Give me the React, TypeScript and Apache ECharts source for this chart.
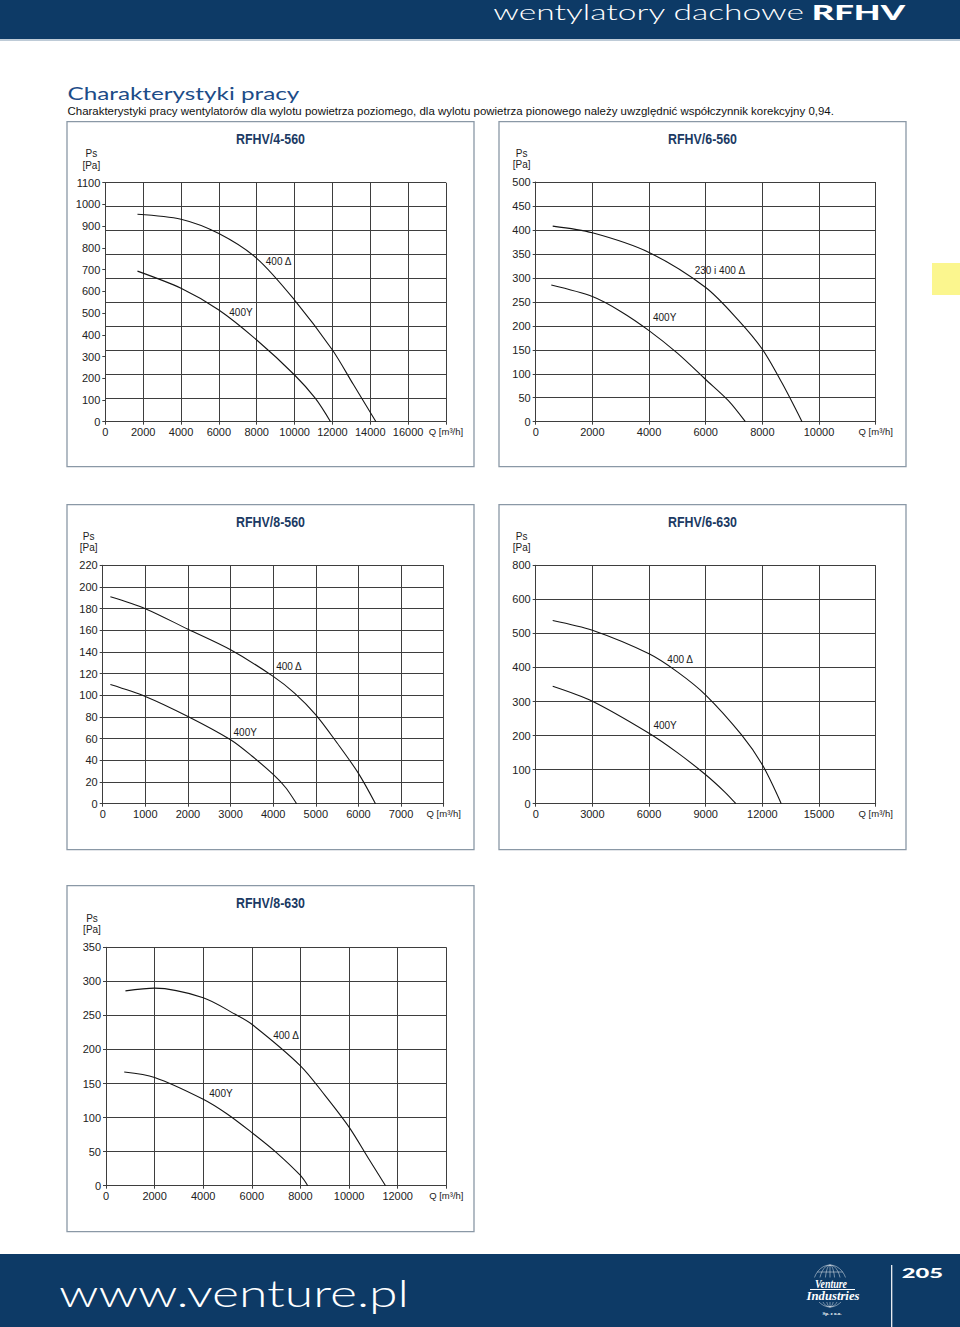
import React, { useEffect, useRef } from "react";
import * as echarts from "echarts";

type P = [number, number];

// ---------------- data ----------------
const chartTitles = ["RFHV/4-560", "RFHV/6-560", "RFHV/8-560", "RFHV/6-630", "RFHV/8-630"];

// RFHV/4-560
const c1Delta: P[] = [[1700, 955], [4000, 932], [6000, 866], [8000, 752], [10000, 560], [12000, 330], [13100, 172], [14300, 0]];
const c1Star: P[] = [[1700, 693], [4000, 614], [6000, 514], [8000, 376], [10000, 215], [11100, 107], [11900, 0]];
const c1XTicks = ["0", "2000", "4000", "6000", "8000", "10000", "12000", "14000", "16000", "Q [m³/h]"];
const c1YTicks = ["0", "100", "200", "300", "400", "500", "600", "700", "800", "900", "1000", "1100"];
const c1Labels = [{ text: "400 Δ", x: 8480, y: 736 }, { text: "400Y", x: 6550, y: 502 }];

// RFHV/6-560
const c2Delta: P[] = [[600, 408], [2000, 394], [4000, 353], [6000, 280], [7150, 212], [8000, 151], [8700, 80], [9400, 0]];
const c2Star: P[] = [[550, 285], [2000, 261], [3000, 230], [4000, 190], [5000, 143], [6000, 88], [6800, 44], [7400, 0]];
const c2XTicks = ["0", "2000", "4000", "6000", "8000", "10000", "Q [m³/h]"];
const c2YTicks = ["0", "50", "100", "150", "200", "250", "300", "350", "400", "450", "500"];
const c2Labels = [{ text: "230 i 400 Δ", x: 5610, y: 315 }, { text: "400Y", x: 4140, y: 218 }];

// RFHV/8-560
const c3Delta: P[] = [[180, 191], [1000, 180], [2000, 161], [3000, 142], [4000, 117.5], [4500, 102], [5000, 82], [5500, 56], [6000, 28], [6400, 0]];
const c3Star: P[] = [[180, 110], [1000, 99], [2000, 80.5], [3000, 59], [3500, 44], [4000, 27], [4300, 14.5], [4550, 0]];
const c3XTicks = ["0", "1000", "2000", "3000", "4000", "5000", "6000", "7000", "Q [m³/h]"];
const c3YTicks = ["0", "20", "40", "60", "80", "100", "120", "140", "160", "180", "200", "220"];
const c3Labels = [{ text: "400 Δ", x: 4070, y: 127 }, { text: "400Y", x: 3070, y: 66 }];

// RFHV/6-630
const c4Delta: P[] = [[900, 538], [3000, 509], [6000, 440], [7500, 387], [9000, 319], [10900, 202], [12000, 114], [13000, 0]];
const c4Star: P[] = [[900, 345], [3000, 301], [6000, 207], [7500, 150], [9000, 85], [10000, 35], [10600, 0]];
const c4XTicks = ["0", "3000", "6000", "9000", "12000", "15000", "Q [m³/h]"];
const c4YTicks = ["0", "100", "200", "300", "400", "500", "600", "800"];
const c4Labels = [{ text: "400 Δ", x: 6970, y: 424 }, { text: "400Y", x: 6230, y: 231 }];

// RFHV/8-630
const c5Delta: P[] = [[800, 286], [2000, 290], [4000, 276], [5300, 252], [6000, 237], [8000, 176], [9000, 133], [10000, 86], [10800, 40], [11500, 0]];
const c5Star: P[] = [[750, 167], [2000, 159], [4000, 127], [5000, 105], [6000, 78], [7000, 49], [8000, 15], [8300, 0]];
const c5XTicks = ["0", "2000", "4000", "6000", "8000", "10000", "12000", "Q [m³/h]"];
const c5YTicks = ["0", "50", "100", "150", "200", "250", "300", "350"];
const c5Labels = [{ text: "400 Δ", x: 6880, y: 220 }, { text: "400Y", x: 4250, y: 135 }];

const xSteps = [2000, 2000, 1000, 3000, 2000];
const ySteps = [100, 50, 20, 100, 50];
const c1GridDivisions = 10; // the original grid of RFHV/4-560 has 10 rows for 11 label steps

// ---------------- layout ----------------
const layouts = [
  { box: [67, 121.7, 407, 345], grid: [105.3, 182.7, 340.7, 239] },
  { box: [499, 121.7, 407, 345], grid: [535.7, 182, 340, 239.7] },
  { box: [67, 504.7, 407, 345], grid: [102.7, 565.3, 341, 238.4] },
  { box: [499, 504.7, 407, 345], grid: [535.7, 565.3, 340, 238.4] },
  { box: [67, 885.7, 407, 346], grid: [106, 947.3, 340.3, 238.4] },
];

const SANS = '"Liberation Sans", Arial, Helvetica, sans-serif';
const WIDE = 'Lato, "Open Sans", sans-serif';
const SERIF = '"Liberation Serif", "DejaVu Serif", serif';
const NAVY = "#0d3a66";
const GRID = "#3e3e3e";
const INK = "#1a1a1a";

const measureCtx = (typeof document !== "undefined" ? document.createElement("canvas").getContext("2d") : null) as CanvasRenderingContext2D | null;

function txt(
  text: string,
  x: number,
  y: number,
  size: number,
  o: { family?: string; weight?: any; fstyle?: string; fill?: string; align?: string; width?: number } = {}
) {
  const family = o.family ?? SANS;
  const weight = o.weight ?? "normal";
  const fstyle = o.fstyle ?? "normal";
  let scaleX = 1;
  if (o.width && measureCtx) {
    measureCtx.font = `${fstyle} ${weight} ${size}px ${family}`;
    const w = measureCtx.measureText(text).width;
    if (w > 0) scaleX = o.width / w;
  }
  return {
    type: "text",
    x,
    y,
    scaleX,
    silent: true,
    z: 10,
    style: {
      text,
      fontSize: size,
      fontFamily: family,
      fontWeight: weight,
      fontStyle: fstyle,
      fill: o.fill ?? INK,
      align: o.align ?? "left",
      verticalAlign: "middle",
    },
  };
}

const charts = [
  { d: c1Delta, s: c1Star, xt: c1XTicks, yt: c1YTicks, lab: c1Labels },
  { d: c2Delta, s: c2Star, xt: c2XTicks, yt: c2YTicks, lab: c2Labels },
  { d: c3Delta, s: c3Star, xt: c3XTicks, yt: c3YTicks, lab: c3Labels },
  { d: c4Delta, s: c4Star, xt: c4XTicks, yt: c4YTicks, lab: c4Labels },
  { d: c5Delta, s: c5Star, xt: c5XTicks, yt: c5YTicks, lab: c5Labels },
];

function buildGraphic(): any[] {
  const graphic: any[] = [];
  // header
  graphic.push({ type: "rect", silent: true, shape: { x: 0, y: 0, width: 960, height: 39 }, style: { fill: NAVY } });
  graphic.push({ type: "line", silent: true, shape: { x1: 0, y1: 40, x2: 960, y2: 40 }, style: { stroke: "#7f98b0", lineWidth: 1 } });
  graphic.push(txt("wentylatory dachowe", 493.3, 12, 21, { family: WIDE, weight: 300, fill: "#ffffff", width: 311.7 }));
  graphic.push(txt("RFHV", 811.7, 12, 20, { family: WIDE, weight: 900, fill: "#ffffff", width: 93.3 }));

  // page title
  graphic.push(txt("Charakterystyki pracy", 67.5, 93.5, 17, { family: WIDE, weight: 400, fill: "#1d4c88", width: 232 }));
  graphic.push(
    txt(
      "Charakterystyki pracy wentylatorów dla wylotu powietrza poziomego, dla wylotu powietrza pionowego należy uwzględnić współczynnik korekcyjny 0,94.",
      67.5,
      110.5,
      11.5,
      { fill: "#111", width: 767 }
    )
  );

  // yellow side tab
  graphic.push({ type: "rect", silent: true, shape: { x: 932, y: 263, width: 28, height: 32 }, style: { fill: "#fbf68e" } });

  // chart frames, titles and axis names
  layouts.forEach((l, i) => {
    const [bx, by, bw, bh] = l.box;
    const [gl, gt] = l.grid;
    graphic.push({ type: "rect", silent: true, shape: { x: bx, y: by, width: bw, height: bh }, style: { fill: "none", stroke: "#8a98a6", lineWidth: 1.3 } });
    graphic.push(txt(chartTitles[i], bx + bw / 2, by + 16.8, 15.5, { weight: "bold", fill: "#1b3a63", align: "center", width: 69 }));
    graphic.push(txt("Ps", gl - 14, gt - 29, 10, { fill: "#222", align: "center" }));
    graphic.push(txt("[Pa]", gl - 14, gt - 17.5, 10, { fill: "#222", align: "center" }));
  });

  // footer
  graphic.push({ type: "rect", silent: true, shape: { x: 0, y: 1254, width: 960, height: 73 }, style: { fill: NAVY } });
  graphic.push(txt("www.venture.pl", 59, 1293.5, 37, { family: WIDE, weight: 300, fill: "#ffffff", width: 350 }));
  // logo globe
  const gcx = 830, gcy = 1286, grx = 17, gry = 21;
  const globeStroke = "rgba(255,255,255,0.75)";
  [grx, 11, 5].forEach((rx) => {
    graphic.push({ type: "ellipse", silent: true, shape: { cx: gcx, cy: gcy, rx, ry: gry }, style: { fill: "none", stroke: globeStroke, lineWidth: 0.6 } });
  });
  graphic.push({ type: "line", silent: true, shape: { x1: gcx, y1: gcy - gry, x2: gcx, y2: gcy + gry }, style: { stroke: globeStroke, lineWidth: 0.6 } });
  [-14, -7, 7, 14].forEach((dy) => {
    const hw = grx * Math.sqrt(1 - (dy / gry) * (dy / gry));
    graphic.push({ type: "line", silent: true, shape: { x1: gcx - hw, y1: gcy + dy, x2: gcx + hw, y2: gcy + dy }, style: { stroke: globeStroke, lineWidth: 0.6 } });
  });
  graphic.push({ type: "rect", silent: true, shape: { x: 812, y: 1277.5, width: 38, height: 12 }, style: { fill: NAVY } });
  graphic.push({ type: "rect", silent: true, shape: { x: 806, y: 1290, width: 55, height: 12 }, style: { fill: NAVY } });
  graphic.push(txt("Venture", 831, 1283.5, 12, { family: SERIF, weight: "bold", fstyle: "italic", fill: "#ffffff", align: "center", width: 32 }));
  graphic.push({ type: "line", silent: true, shape: { x1: 810, y1: 1289.5, x2: 855, y2: 1289.5 }, style: { stroke: "#ffffff", lineWidth: 1 } });
  graphic.push(txt("Industries", 833, 1295.5, 13, { family: SERIF, weight: "bold", fstyle: "italic", fill: "#ffffff", align: "center", width: 53 }));
  graphic.push(txt("Sp. z o.o.", 832, 1313, 5, { family: SERIF, weight: "bold", fill: "#ffffff", align: "center" }));
  graphic.push({ type: "line", silent: true, shape: { x1: 891.7, y1: 1265, x2: 891.7, y2: 1327 }, style: { stroke: "#ffffff", lineWidth: 1.2 } });
  graphic.push(txt("205", 901.7, 1272.7, 14, { family: WIDE, weight: 900, fill: "#ffffff", width: 41.3 }));
  return graphic;
}

function buildOption() {
  const grid = layouts.map((l) => ({ left: l.grid[0], top: l.grid[1], width: l.grid[2], height: l.grid[3], containLabel: false }));

  const xAxis = charts.map((c, i) => {
    const step = xSteps[i];
    const max = step * (c.xt.length - 1);
    return {
      type: "value",
      gridIndex: i,
      min: 0,
      max,
      interval: step,
      axisLine: { show: true, onZero: false, lineStyle: { color: GRID, width: 1 } },
      axisTick: { show: true, length: 3, lineStyle: { color: GRID } },
      splitLine: { show: true, lineStyle: { color: GRID, width: 1 } },
      axisLabel: {
        margin: 5,
        fontSize: 11,
        color: "#222",
        fontFamily: SANS,
        formatter: (v: number) => {
          const idx = Math.round(v / step);
          const t = c.xt[idx] ?? "";
          return idx === c.xt.length - 1 ? `{q|${t}}` : t;
        },
        rich: { q: { fontSize: 9.5, color: "#222", fontFamily: SANS } },
      },
    };
  });

  const yAxis: any[] = charts.map((c, i) => {
    const step = ySteps[i];
    const max = step * (c.yt.length - 1);
    return {
      type: "value",
      gridIndex: i,
      min: 0,
      max,
      interval: step,
      axisLine: { show: true, onZero: false, lineStyle: { color: GRID, width: 1 } },
      axisTick: { show: true, length: 3, lineStyle: { color: GRID } },
      splitLine: { show: i !== 0, lineStyle: { color: GRID, width: 1 } },
      axisLabel: {
        margin: 5,
        fontSize: 11,
        color: "#222",
        fontFamily: SANS,
        formatter: (v: number) => c.yt[Math.round(v / step)] ?? "",
      },
    };
  });
  // extra axis for the separate grid rows of the first chart
  yAxis.push({
    type: "value",
    gridIndex: 0,
    position: "left",
    min: 0,
    max: c1GridDivisions,
    interval: 1,
    axisLine: { show: false },
    axisTick: { show: false },
    axisLabel: { show: false },
    splitLine: { show: true, lineStyle: { color: GRID, width: 1 } },
  });

  const series: any[] = [];
  charts.forEach((c, i) => {
    [c.d, c.s].forEach((data) => {
      series.push({
        type: "line",
        xAxisIndex: i,
        yAxisIndex: i,
        data,
        smooth: 0.3,
        showSymbol: false,
        symbol: "none",
        silent: true,
        z: 4,
        lineStyle: { color: "#151515", width: 1.1 },
      });
    });
  });

  return {
    animation: false,
    backgroundColor: "#ffffff",
    grid,
    xAxis,
    yAxis,
    series,
    graphic: buildGraphic(),
  };
}

export default function App() {
  const ref = useRef<HTMLDivElement>(null);
  useEffect(() => {
    if (!ref.current) return;
    const chart = echarts.init(ref.current, null, { renderer: "svg" });
    chart.setOption(buildOption() as any);
    // curve labels, placed through each chart's own axes
    const labelGraphics: any[] = [];
    charts.forEach((c, i) => {
      c.lab.forEach((l) => {
        const p = chart.convertToPixel({ xAxisIndex: i, yAxisIndex: i } as any, [l.x, l.y]) as number[];
        if (p) labelGraphics.push(txt(l.text, p[0], p[1], 10, { fill: INK }));
      });
    });
    chart.setOption({ graphic: [...buildGraphic(), ...labelGraphics] } as any);
    return () => chart.dispose();
  }, []);
  return <div ref={ref} style={{ position: "absolute", left: 0, top: 0, width: 960, height: 1327 }} />;
}
